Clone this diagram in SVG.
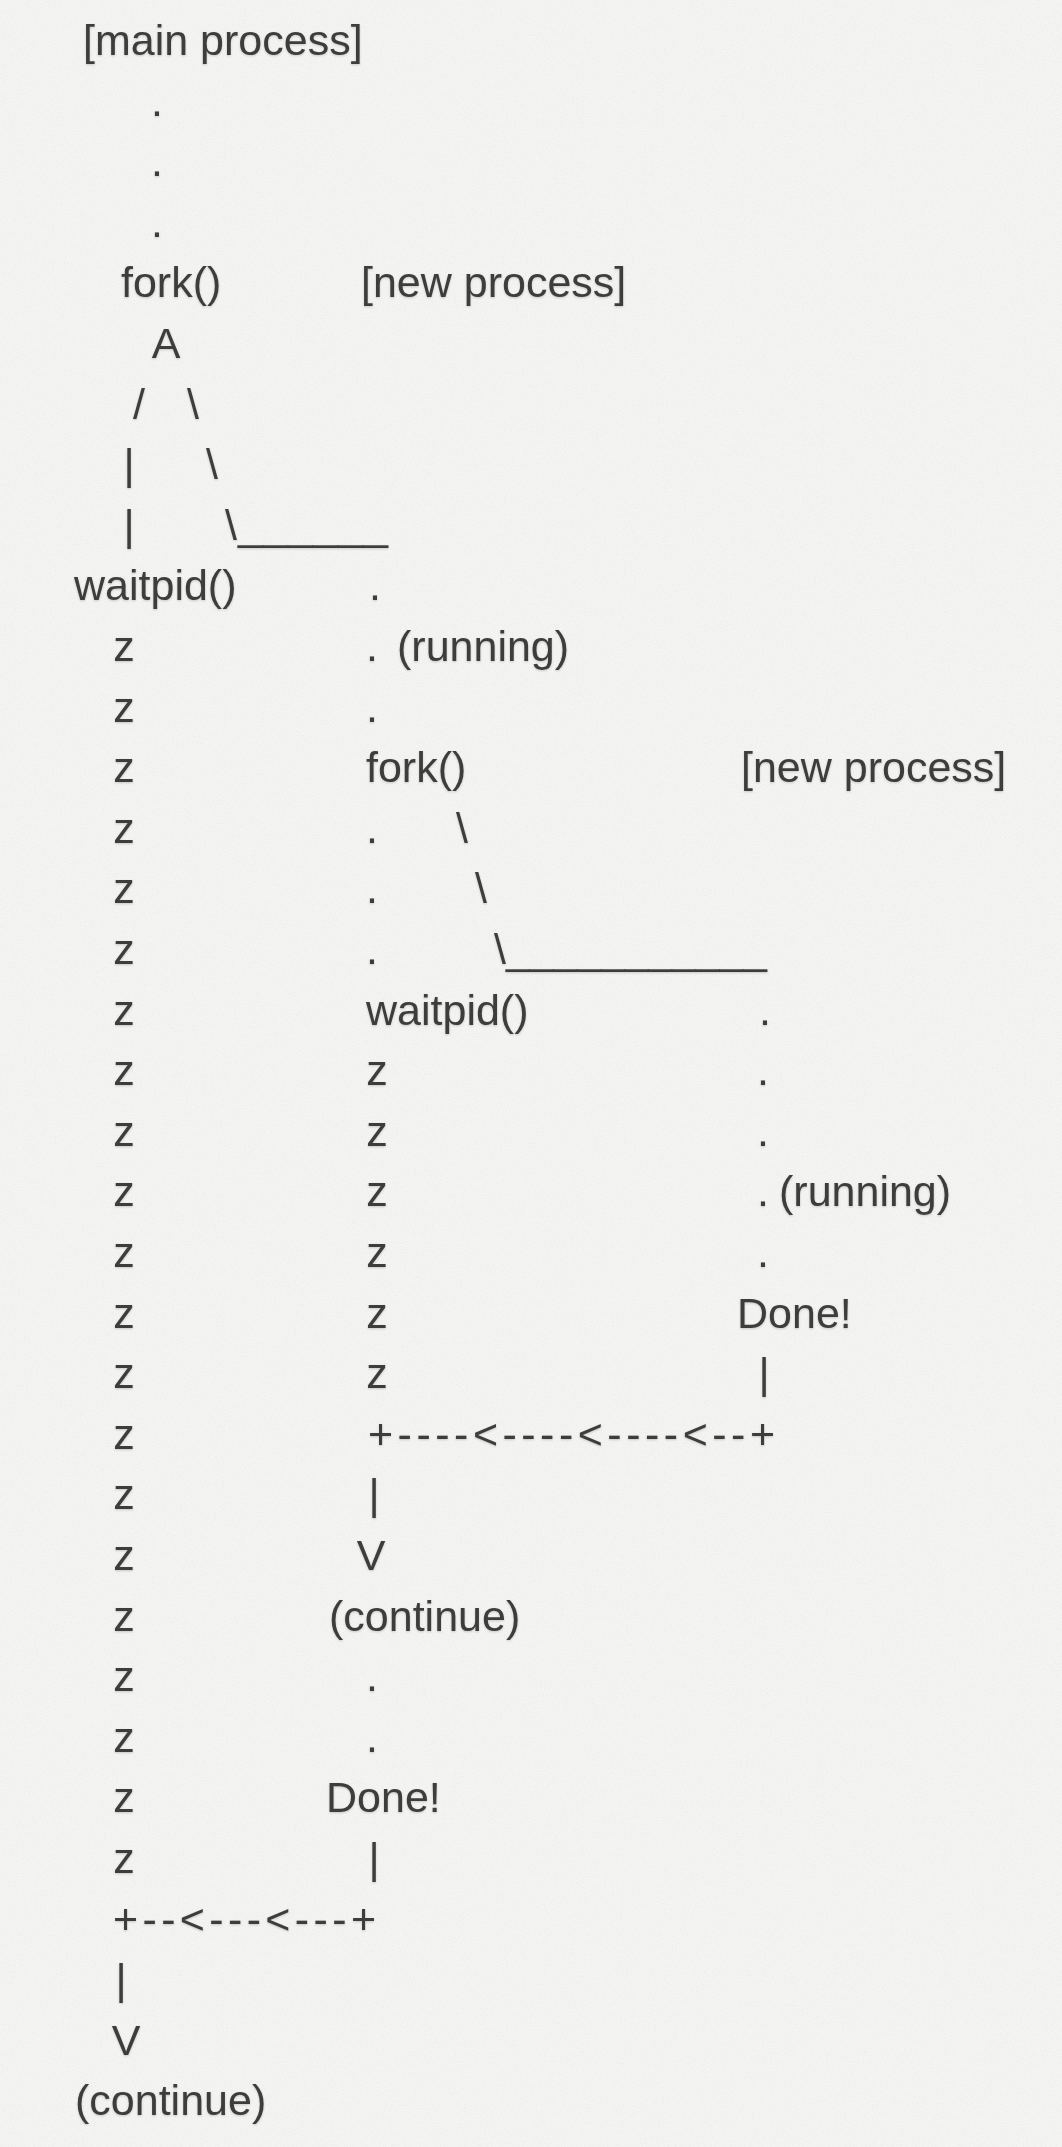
<svg xmlns="http://www.w3.org/2000/svg" width="1062" height="2147" viewBox="0 0 1062 2147">
<style>
text{font-family:"Liberation Sans",Arial,sans-serif;font-size:43px;fill:#3e3e3e;filter:url(#emb)}
.m{text-anchor:middle}
</style>
<defs>
<filter id="paper" x="0" y="0" width="100%" height="100%">
<feTurbulence type="fractalNoise" baseFrequency="0.9" numOctaves="2" seed="3" result="n"/>
<feColorMatrix in="n" type="matrix" values="0 0 0 0 0  0 0 0 0 0  0 0 0 0 0  0 0 0 -0.9 0.55" result="a"/>
<feComposite in="a" in2="SourceGraphic" operator="in"/>
</filter>
<filter id="emb" x="-5%" y="-20%" width="110%" height="140%">
<feDropShadow dx="0" dy="1" stdDeviation="0.8" flood-color="#000" flood-opacity="0.18"/>
</filter>
</defs>
<rect width="1062" height="2147" fill="#f4f4f3"/>
<rect width="1062" height="2147" fill="#000" filter="url(#paper)" opacity="0.07"/>

<g id="main-process">
<text x="83" y="55">[main process]</text>
<text class="m" x="157" y="115.6">.</text>
<text class="m" x="157" y="176.2">.</text>
<text class="m" x="157" y="236.8">.</text>
<text x="121" y="297.4">fork()</text>
<text class="m" x="166" y="358">A</text>
<text x="74" y="600.4">waitpid()</text>
</g>

<g id="main-sleep">
<text class="m" x="124" y="661">z</text>
<text class="m" x="124" y="721.6">z</text>
<text class="m" x="124" y="782.2">z</text>
<text class="m" x="124" y="842.8">z</text>
<text class="m" x="124" y="903.4">z</text>
<text class="m" x="124" y="964">z</text>
<text class="m" x="124" y="1024.6">z</text>
<text class="m" x="124" y="1085.2">z</text>
<text class="m" x="124" y="1145.8">z</text>
<text class="m" x="124" y="1206.4">z</text>
<text class="m" x="124" y="1267">z</text>
<text class="m" x="124" y="1327.6">z</text>
<text class="m" x="124" y="1388.2">z</text>
<text class="m" x="124" y="1448.8">z</text>
<text class="m" x="124" y="1509.4">z</text>
<text class="m" x="124" y="1570">z</text>
<text class="m" x="124" y="1630.6">z</text>
<text class="m" x="124" y="1691.2">z</text>
<text class="m" x="124" y="1751.8">z</text>
<text class="m" x="124" y="1812.4">z</text>
<text class="m" x="124" y="1873">z</text>
</g>

<g id="main-continue">
<text x="75" y="2115.4">(continue)</text>
</g>

<g id="child-process">
<text x="361" y="297.4">[new process]</text>
<text class="m" x="375" y="600.4">.</text>
<text class="m" x="372" y="661">.</text>
<text x="397" y="661">(running)</text>
<text class="m" x="372" y="721.6">.</text>
<text x="366" y="782.2">fork()</text>
<text class="m" x="372" y="842.8">.</text>
<text class="m" x="372" y="903.4">.</text>
<text class="m" x="372" y="964">.</text>
<text x="366" y="1024.6">waitpid()</text>
</g>

<g id="child-sleep">
<text class="m" x="377" y="1085.2">z</text>
<text class="m" x="377" y="1145.8">z</text>
<text class="m" x="377" y="1206.4">z</text>
<text class="m" x="377" y="1267">z</text>
<text class="m" x="377" y="1327.6">z</text>
<text class="m" x="377" y="1388.2">z</text>
</g>

<g id="child-continue">
<text x="329" y="1630.6">(continue)</text>
<text class="m" x="372" y="1691.2">.</text>
<text class="m" x="372" y="1751.8">.</text>
<text x="326" y="1812.4">Done!</text>
</g>

<g id="grandchild-process">
<text x="741" y="782.2">[new process]</text>
<text class="m" x="765" y="1024.6">.</text>
<text class="m" x="763" y="1085.2">.</text>
<text class="m" x="763" y="1145.8">.</text>
<text class="m" x="763" y="1206.4">.</text>
<text x="779" y="1206.4">(running)</text>
<text class="m" x="763" y="1267">.</text>
<text x="737" y="1327.6">Done!</text>
</g>

<g id="connectors">
<text class="m" x="139" y="418.6">/</text>
<text class="m" x="193" y="418.6">\</text>
<text class="m" x="129" y="479.2">|</text>
<text class="m" x="212" y="479.2">\</text>
<text class="m" x="129" y="539.8">|</text>
<text class="m" x="231" y="539.8">\</text>
<text x="238" y="539.8" textLength="150" lengthAdjust="spacingAndGlyphs">______</text>
<text class="m" x="462" y="842.8">\</text>
<text class="m" x="481" y="903.4">\</text>
<text class="m" x="500" y="964">\</text>
<text x="506" y="964" textLength="261" lengthAdjust="spacingAndGlyphs">___________</text>
<text class="m" x="764" y="1388.2">|</text>
<text x="368" y="1448.8" textLength="407" lengthAdjust="spacing">+----&lt;----&lt;----&lt;--+</text>
<text class="m" x="374" y="1509.4">|</text>
<text class="m" x="371" y="1570">V</text>
<text class="m" x="374" y="1873">|</text>
<text x="113" y="1933.6" textLength="263" lengthAdjust="spacing">+--&lt;---&lt;---+</text>
<text class="m" x="121" y="1994.2">|</text>
<text class="m" x="126" y="2054.8">V</text>
</g>
</svg>
